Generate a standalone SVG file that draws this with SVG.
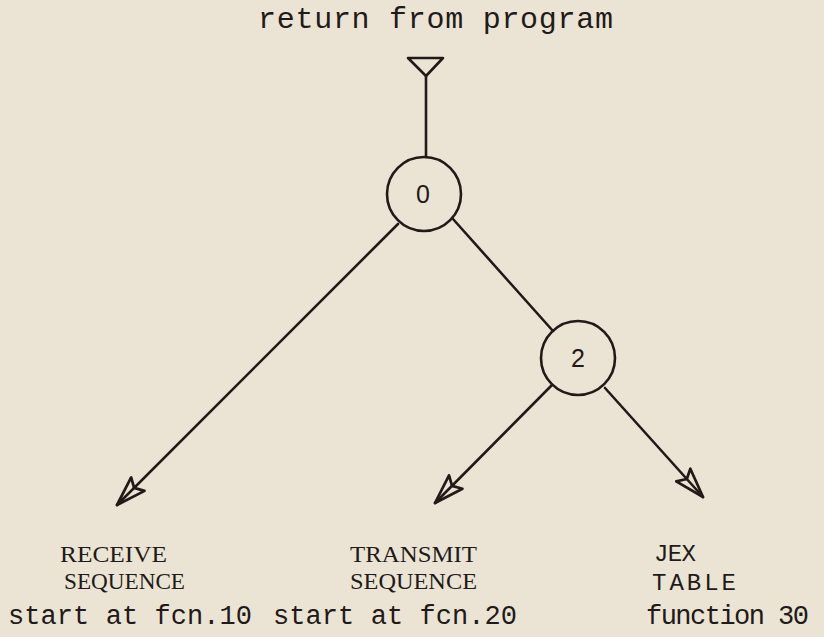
<svg xmlns="http://www.w3.org/2000/svg" width="824" height="637" viewBox="0 0 824 637">
<style>
.ln{stroke:#221a18;stroke-width:2.6;fill:none;stroke-linecap:round;stroke-linejoin:round}
.mono{font-family:"Liberation Mono","Courier New",monospace;fill:#221a18}
.ser{font-family:"Liberation Serif","Times New Roman",serif;fill:#221a18}
.num{font-family:"Liberation Sans","DejaVu Sans",sans-serif;fill:#221a18;font-size:25px;text-anchor:middle}
</style>
<defs>
<marker id="arr" markerUnits="userSpaceOnUse" markerWidth="40" markerHeight="30" viewBox="-34 -14 38 28" refX="0" refY="0" orient="auto">
<path d="M0,0 L-28,-9 L-23,0 L-28,9 Z" fill="none" stroke="#221a18" stroke-width="2.6" stroke-linejoin="round"/>
</marker>
</defs>
<rect x="0" y="0" width="824" height="637" fill="#ebe4d4"/>
<text class="mono" x="258" y="28" font-size="30" textLength="355" lengthAdjust="spacing">return from program</text>
<g id="connectors">
<polygon class="ln" points="408,58 443,58 426,76"/>
<line class="ln" x1="426" y1="76" x2="426" y2="157"/>
<line class="ln" x1="453" y1="219" x2="553" y2="331"/>
<line class="ln" x1="398" y1="224" x2="117" y2="505" marker-end="url(#arr)"/>
<line class="ln" x1="552" y1="385" x2="435" y2="503" marker-end="url(#arr)"/>
<line class="ln" x1="605" y1="388" x2="703" y2="497" marker-end="url(#arr)"/>
</g>
<g id="node0">
<circle class="ln" cx="424" cy="194" r="37"/>
<text class="num" x="423" y="203">0</text>
</g>
<g id="node2">
<circle class="ln" cx="578" cy="358" r="37"/>
<text class="num" x="578" y="367">2</text>
</g>
<g id="receive">
<text class="ser" x="60" y="562" font-size="24" textLength="107" lengthAdjust="spacingAndGlyphs">RECEIVE</text>
<text class="ser" x="64" y="589" font-size="24" textLength="121" lengthAdjust="spacingAndGlyphs">SEQUENCE</text>
<text class="mono" x="8" y="624" font-size="27" textLength="244" lengthAdjust="spacing">start at fcn.10</text>
</g>
<g id="transmit">
<text class="ser" x="350" y="562" font-size="24" textLength="127" lengthAdjust="spacingAndGlyphs">TRANSMIT</text>
<text class="ser" x="350" y="589" font-size="24" textLength="127" lengthAdjust="spacingAndGlyphs">SEQUENCE</text>
<text class="mono" x="273" y="624" font-size="27" textLength="244" lengthAdjust="spacing">start at fcn.20</text>
</g>
<g id="jex">
<text class="mono" x="654" y="561" font-size="24" textLength="42" lengthAdjust="spacing">JEX</text>
<text class="mono" x="652" y="590" font-size="24" textLength="84" lengthAdjust="spacing">TABLE</text>
<text class="mono" x="646" y="624" font-size="27" textLength="163" lengthAdjust="spacing">function 30</text>
</g>
</svg>
